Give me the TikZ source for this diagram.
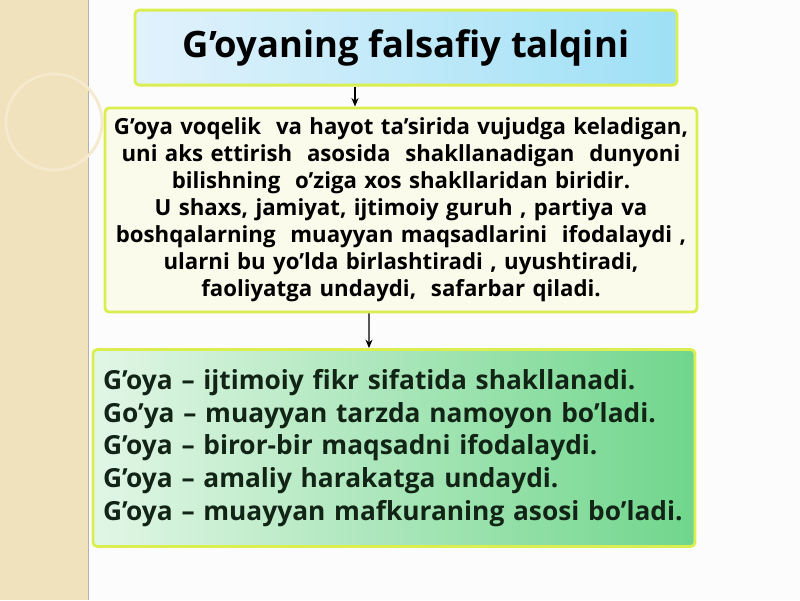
\documentclass[tikz,border=0pt]{standalone}
\usepackage{fontspec}
\setmainfont{Open Sans}
\definecolor{stripbeige}{RGB}{241, 226, 190}
\definecolor{boxborder}{RGB}{218, 238, 80}
\definecolor{titleleft}{RGB}{226, 242, 252}
\definecolor{titleright}{RGB}{158, 224, 246}
\definecolor{infofill}{RGB}{251, 251, 236}
\definecolor{listleft}{RGB}{226, 246, 230}
\definecolor{listright}{RGB}{112, 214, 140}
\definecolor{listtext}{RGB}{18, 36, 22}
\usetikzlibrary{arrows.meta, positioning, calc}

\begin{document}
\begin{tikzpicture}[
  panel/.style={draw=boxborder, line width=2pt, rounded corners=3pt, inner sep=0.25cm},
  arr/.style={-{Stealth[length=6pt, width=5pt]}, line width=1pt, black}
]
  % Background and side strip
  \useasboundingbox (0,0) rectangle (20,-15);
  \fill[white!98!gray] (0,0) rectangle (20,-15);
  \fill[stripbeige] (0,0) rectangle (2.2,-15);
  \draw[gray!60] (2.2,0) -- (2.2,-15);
  \draw[white!25!stripbeige, line width=2pt] (1.35,-3.05) circle (1.2);

  % Title
  \node[panel, left color=titleleft, right color=titleright, minimum width=13.55cm, minimum height=1.875cm, font=\bfseries\fontsize{25.9}{30}\selectfont] (title) at (10.15, -1.19) {G’oyaning falsafiy talqini};

  % Definition
  \node[panel, inner xsep=0.2cm, fill=infofill, text width=14.4cm, minimum height=5cm, align=center, font=\bfseries\fontsize{15.8}{19.2}\selectfont] (info) at (10.025, -5.25) {
    G’oya voqelik\ \ va hayot ta’sirida vujudga keladigan,\\
    uni aks ettirish\ \ asosida\ \ shakllanadigan\ \ dunyoni\\
    bilishning\ \ o’ziga xos shakllaridan biridir.\\
    U shaxs, jamiyat, ijtimoiy guruh , partiya va\\
    boshqalarning\ \ muayyan maqsadlarini\ \ ifodalaydi ,\\
    ularni bu yo’lda birlashtiradi , uyushtiradi,\\
    faoliyatga undaydi,\ \ safarbar qiladi.
  };

  % Features
  \node[panel, left color=listleft, right color=listright, text width=14.55cm, minimum height=4.925cm, align=left, text=listtext, font=\bfseries\fontsize{18.7}{23.4}\selectfont] (list) at (9.85, -11.2) {
    G’oya – ijtimoiy fikr sifatida shakllanadi.\\
    Go’ya – muayyan tarzda namoyon bo’ladi.\\
    G’oya – biror-bir maqsadni ifodalaydi.\\
    G’oya – amaliy harakatga undaydi.\\
    G’oya – muayyan mafkuraning asosi bo’ladi.
  };

  \draw[arr] ([xshift=-1.275cm]title.south) -- ([xshift=-1.15cm]info.north);
  \draw[arr] ([xshift=-0.8cm]info.south) -- ([xshift=-0.625cm]list.north);
\end{tikzpicture}
\end{document}
